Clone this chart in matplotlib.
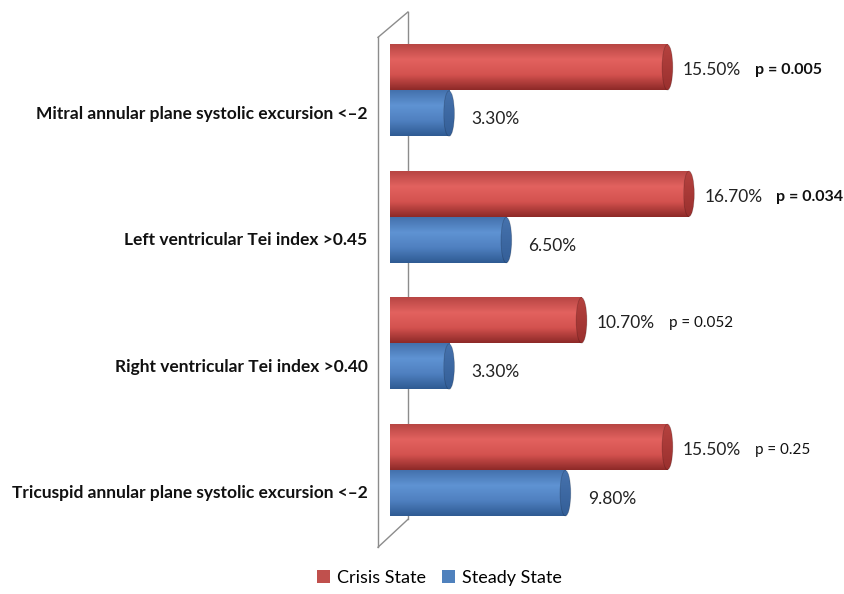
import numpy as np
import matplotlib
matplotlib.use("Agg")
import matplotlib.pyplot as plt
from matplotlib.colors import LinearSegmentedColormap
from matplotlib.patches import Ellipse, Patch

plt.rcParams["font.family"] = ["Lato", "DejaVu Sans"]

categories = [
    "Mitral annular plane systolic excursion <\u20132",
    "Left ventricular Tei index >0.45",
    "Right ventricular Tei index >0.40",
    "Tricuspid annular plane systolic excursion <\u20132",
]
crisis = [15.5, 16.7, 10.7, 15.5]
steady = [3.3, 6.5, 3.3, 9.8]
p_labels = ["p = 0.005", "p = 0.034", "p = 0.052", "p = 0.25"]
p_bold = [True, True, False, False]
series_names = ["Crisis State", "Steady State"]

# shading stops for the cylinder body, top edge to bottom edge
RED_STOPS = ["#b84644", "#e2625f", "#d4524f", "#8e2a28"]
BLUE_STOPS = ["#4471ad", "#5f93d3", "#4f80c0", "#2f5b93"]
RED_CAP = ["#b5423f", "#9a302e"]
BLUE_CAP = ["#4672ad", "#345f98"]

BAR_H = 0.36
OFFSET = 0.183
CAP_W = 0.6


def cylinder(ax, y, value, stops, cap_stops):
    grad = LinearSegmentedColormap.from_list("c", stops)(np.linspace(0, 1, 64))[:, None, :3]
    top, bot = y - BAR_H / 2, y + BAR_H / 2
    ax.imshow(grad, extent=(0, value, bot, top), origin="upper",
              aspect="auto", interpolation="bilinear", zorder=3)
    cap = Ellipse((value, y), CAP_W, BAR_H, transform=ax.transData,
                  facecolor="none")
    cgrad = LinearSegmentedColormap.from_list("k", cap_stops)(np.linspace(0, 1, 64))[:, None, :3]
    im = ax.imshow(cgrad, extent=(value - CAP_W / 2, value + CAP_W / 2, bot, top),
                   origin="upper", aspect="auto", interpolation="bilinear", zorder=4)
    im.set_clip_path(cap)
    ax.add_patch(Ellipse((value, y), CAP_W, BAR_H, facecolor="none",
                         edgecolor="#00000030", lw=0.6, zorder=5))


fig = plt.figure(figsize=(8.45, 5.94), dpi=100)
ax = fig.add_axes([370 / 845, 34 / 594, 470 / 845, 560 / 594])

# back wall of the 3d plot area
wall = dict(color="#8c8c8c", lw=1.0, zorder=1)
ax.plot([-0.67, -0.67], [-0.42, 3.61], **wall)
ax.plot([1.0, 1.0], [-0.62, 3.39], **wall)
ax.plot([-0.67, 1.0], [-0.42, -0.62], **wall)
ax.plot([-0.67, 1.0], [3.61, 3.39], **wall)

for i, cat in enumerate(categories):
    yr, yb = i - OFFSET, i + OFFSET
    cylinder(ax, yr, crisis[i], RED_STOPS, RED_CAP)
    cylinder(ax, yb, steady[i], BLUE_STOPS, BLUE_CAP)

    ax.annotate(f"{crisis[i]:.2f}%", (crisis[i], yr), xytext=(11, -2),
                textcoords="offset points", va="center", ha="left",
                fontsize=12.5, color="#222222")
    ax.annotate(f"{steady[i]:.2f}%", (steady[i], yb), xytext=(16, -4),
                textcoords="offset points", va="center", ha="left",
                fontsize=12.5, color="#222222")
    ax.annotate(p_labels[i], (crisis[i], yr), xytext=(63, -2),
                textcoords="offset points", va="center", ha="left",
                fontsize=11.5 if p_bold[i] else 11,
                fontweight="bold" if p_bold[i] else "normal",
                color="#111111", annotation_clip=False)

    ax.text(-1.25, yb, cat, ha="right", va="center", fontsize=12.5,
            fontweight="bold", color="#111111", clip_on=False)

ax.set_xlim(-1.117, 25.14)
ax.set_ylim(3.711, -0.715)
ax.axis("off")

handles = [Patch(facecolor="#c0504d"), Patch(facecolor="#4f81bd")]
fig.legend(handles, series_names, loc="center", bbox_to_anchor=(0.52, 0.027),
           ncol=2, frameon=False, fontsize=13, handlelength=0.7,
           handleheight=0.7, columnspacing=0.9, handletextpad=0.4)

fig.savefig("out.png", dpi=100)
